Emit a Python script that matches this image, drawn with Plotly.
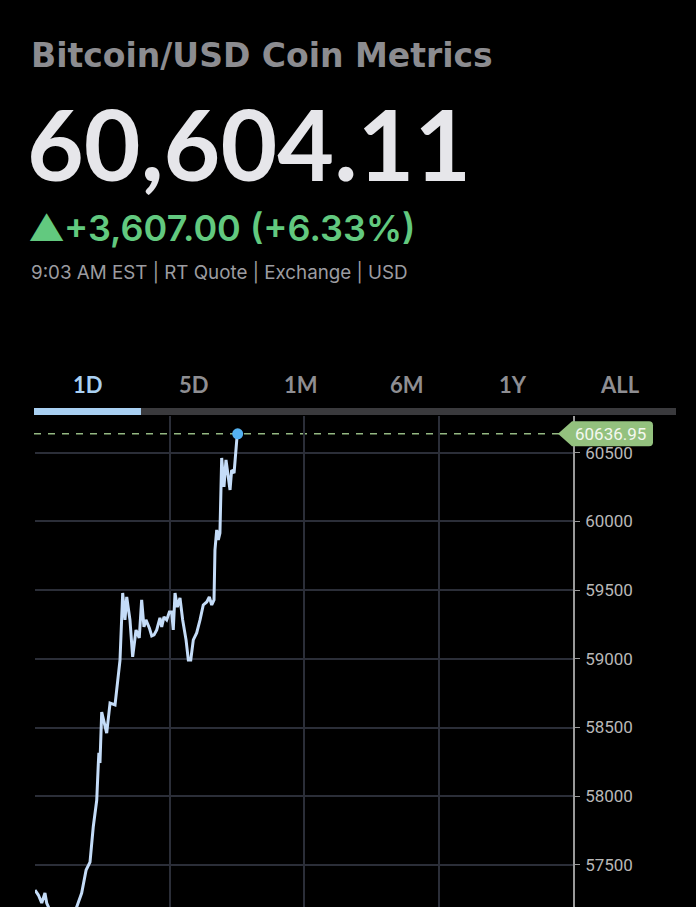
import plotly.graph_objects as go

# ---------------- data ----------------
title_text = "Bitcoin/USD Coin Metrics"
price_text = "60,604.11"
change_text = "+3,607.00 (+6.33%)"
quote_text = "9:03 AM EST | RT Quote | Exchange | USD"
tabs = ["1D", "5D", "1M", "6M", "1Y", "ALL"]
last_price = 60636.95

# minutes-ish index along the day and price
t_vals = [0, 2.5, 5, 7.4, 8.7, 12, 16, 20, 24, 28, 31, 34.7, 38, 40.9, 43.3, 45.9,
          47.1, 47.5, 48.3, 49.6, 53.3, 55.8, 59.5, 63.2, 65.2, 66.9, 68.2, 70.6,
          72.6, 75.1, 77.5, 79.3, 81, 82.5, 85, 86.8, 88.5, 90.5, 92.9, 94.2, 95.9,
          97.9, 99.9, 101.6, 102.8, 104.1, 105.8, 107.8, 109.8, 112.3, 114, 115.8,
          117.7, 120.2, 122.7, 125.1, 127.7, 129.6, 131.4, 133.1, 133.8, 135.1,
          136.3, 137.5, 138.8, 140.5, 142, 143.7, 145, 146.2, 148, 150, 150.7]
prices = [57317, 57281, 57223, 57296, 57223, 57150, 57120, 57160, 57110, 57140, 57194,
          57296, 57463, 57521, 57776, 57972, 58242, 58315, 58242, 58613, 58460, 58678,
          58664, 58991, 59479, 59283, 59450, 59283, 59014, 59210, 59152, 59429, 59232,
          59283, 59225, 59167, 59174, 59210, 59298, 59232, 59305, 59283, 59341, 59341,
          59210, 59479, 59377, 59443, 59283, 59138, 58991, 58991, 59138, 59188, 59283,
          59392, 59414, 59450, 59392, 59429, 59792, 59938, 59865, 59916, 60462, 60251,
          60447, 60301, 60229, 60374, 60352, 60592, 60636.95]
y_ticks = [57500, 58000, 58500, 59000, 59500, 60000, 60500]
x_grid = [0, 100, 200, 300, 400]

# ---------------- layout geometry ----------------
W, H = 696, 907
L, R, T, B = 35, 123, 416, 0
plot_h = H - T - B
plot_w = W - L - R


def py(pix_y):
    return (H - B - pix_y) / plot_h


def px(pix_x):
    return (pix_x - L) / plot_w


fig = go.Figure()
fig.add_trace(go.Scatter(x=t_vals, y=prices, mode="lines",
                         line=dict(color="#c4dcf8", width=3),
                         hoverinfo="skip", showlegend=False))
fig.add_trace(go.Scatter(x=[t_vals[-1]], y=[prices[-1]], mode="markers",
                         marker=dict(color="#55b2f0", size=11),
                         hoverinfo="skip", showlegend=False))

font_main = "Inter, Lato, sans-serif"
font_big = "Lato, sans-serif"
font_wide = "'DejaVu Sans', Inter, sans-serif"

fig.update_layout(
    width=W, height=H,
    margin=dict(l=L, r=R, t=T, b=B),
    paper_bgcolor="#000000", plot_bgcolor="#000000",
    xaxis=dict(range=[0, 400], tickvals=x_grid, showticklabels=False,
               showgrid=True, gridcolor="#2b2e38", gridwidth=1.5,
               zeroline=False, showline=False, fixedrange=True),
    yaxis=dict(range=[57194, 60767], side="right", tickvals=y_ticks,
               ticktext=[str(v) for v in y_ticks],
               showgrid=True, gridcolor="#2b2e38", gridwidth=1.5,
               zeroline=False, showline=True, linecolor="#9a9a9a", linewidth=1.5,
               ticks="outside", ticklen=5, tickcolor="#9a9a9a", tickwidth=1,
               tickfont=dict(family="Roboto, 'Liberation Sans', sans-serif",
                             size=17, color="#b8b8b8"),
               ticklabelstandoff=2, fixedrange=True),
    font=dict(family=font_main),
)

# dashed last-price line
fig.add_shape(type="line", xref="paper", yref="y", x0=px(34), x1=1.0,
              y0=last_price, y1=last_price, layer="below",
              line=dict(color="#94b882", width=1.5, dash="7px,7px"))

# price label: pointer + box
fig.add_shape(type="path", xref="paper", yref="y", xsizemode="pixel", ysizemode="pixel",
              xanchor=1.0, yanchor=last_price,
              path="M -15,0 L -1,-12.5 L 76,-12.5 Q 80,-12.5 80,-8.5 L 80,8.5 Q 80,12.5 76,12.5 L -1,12.5 Z",
              fillcolor="#93c17e", line=dict(width=0), layer="above")
fig.add_annotation(xref="paper", yref="y", x=1.0, y=last_price, xanchor="left",
                   xshift=0, text="60636.95", showarrow=False,
                   font=dict(family="Roboto, 'Liberation Sans', sans-serif",
                             size=17, color="#f4f8f0"))

# tab bar
fig.add_shape(type="rect", xref="paper", yref="paper", x0=px(34), x1=px(676),
              y0=py(415), y1=py(408), fillcolor="#3a3a3d", line=dict(width=0))
fig.add_shape(type="rect", xref="paper", yref="paper", x0=px(34), x1=px(141),
              y0=py(415), y1=py(408), fillcolor="#a9d0f2", line=dict(width=0))

tab_x = [88, 194, 301, 407, 513, 620]
for i, lab in enumerate(tabs):
    fig.add_annotation(xref="paper", yref="paper", x=px(tab_x[i]), y=py(384),
                       text=f"<b>{lab}</b>", showarrow=False, xanchor="center",
                       yanchor="middle",
                       font=dict(family=font_big, size=22,
                                 color="#a9d0f2" if i == 0 else "#8e8e92"))

# header texts
fig.add_annotation(xref="paper", yref="paper", x=px(29), y=py(55), xanchor="left",
                   yanchor="middle", showarrow=False, text=f"<b>{title_text}</b>",
                   font=dict(family=font_wide, size=33, color="#8c8c90"))
fig.add_annotation(xref="paper", yref="paper", x=px(25), y=py(143), xanchor="left",
                   yanchor="middle", showarrow=False, text=f"<b>{price_text}</b>",
                   font=dict(family=font_big, size=98, color="#e6e6ea"))
fig.add_annotation(xref="paper", yref="paper", x=px(26), y=py(228), xanchor="left",
                   yanchor="middle", showarrow=False,
                   text=f"▲{change_text}",
                   font=dict(family=font_main, size=36, weight=600, color="#62c97f"))
fig.add_annotation(xref="paper", yref="paper", x=px(29), y=py(272), xanchor="left",
                   yanchor="middle", showarrow=False, text=quote_text,
                   font=dict(family=font_main, size=18.8, color="#9c9ca0"))

fig.write_html("out.html",
               config={"displayModeBar": False},
               post_script="document.body.style.margin='0';"
                           "document.body.style.background='#000';")
